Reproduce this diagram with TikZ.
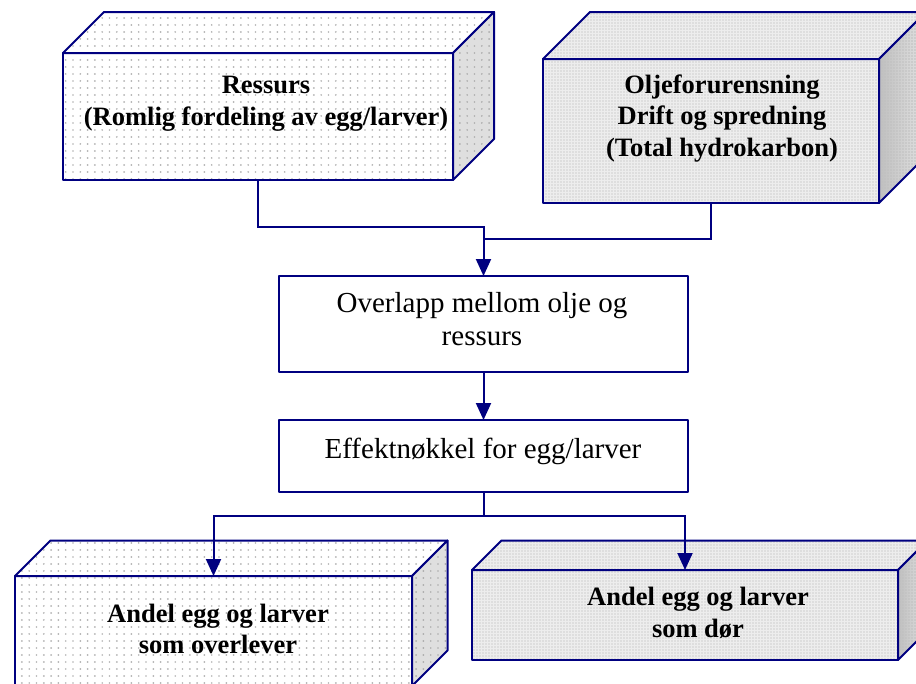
\documentclass[tikz,border=0pt]{standalone}
\usepackage{fontspec}
\setmainfont{Liberation Serif}
\usetikzlibrary{arrows.meta,patterns.meta,calc}

\definecolor{navy}{RGB}{0,0,128}

% dotted fills for the boxes
\tikzdeclarepattern{
  name=sparsedots,
  type=uncolored,
  bottom left={(-1pt,-1pt)},
  top right={(1pt,1pt)},
  tile size={(7.3pt,7pt)},
  code={\fill (0pt,0pt) circle (0.95pt);}
}
\tikzdeclarepattern{
  name=finedots,
  type=uncolored,
  bottom left={(-1pt,-1pt)},
  top right={(1pt,1pt)},
  tile size={(3pt,3pt)},
  code={\fill (0pt,0pt) circle (0.8pt);}
}

% top and side face of a box whose front is node #1
\newcommand\prism[4]{%
  \path[face,#3] (#1.north west) -- ++(#2,-#2) -- ($(#1.north east)+(#2,-#2)$) -- (#1.north east) -- cycle;
  \path[face,#4] (#1.north east) -- ++(#2,-#2) -- ($(#1.south east)+(#2,-#2)$) -- (#1.south east) -- cycle;
}

\begin{document}
\begin{tikzpicture}[x=1pt,y=-1pt,
  face/.style={draw=navy, line width=2pt, line join=round, inner sep=0pt, outer sep=0pt},
  sparse/.style={preaction={fill=white}, pattern=sparsedots, pattern color=gray!60},
  sparseside/.style={preaction={fill=gray!25}, pattern=sparsedots, pattern color=gray!65},
  dense/.style={preaction={fill=gray!14}, pattern=finedots, pattern color=gray!38},
  denseside/.style={preaction={left color=gray!50, right color=gray!22}, pattern=finedots, pattern color=gray!50},
  boldtxt/.style={align=center, font=\fontsize{26.5}{31.5}\selectfont\bfseries},
  plaintxt/.style={align=center, font=\fontsize{29}{33}\selectfont},
  link/.style={draw=navy, line width=2pt},
  tip/.style={-{Triangle[length=17pt,width=15pt]}}
]
\useasboundingbox (0,0) rectangle (916,683);
\clip (0,0) rectangle (916,683);

% input boxes
\node[face, sparse, minimum width=390pt, minimum height=127pt] (res) at (258,116.5) {};
\prism{res}{41}{sparse}{sparseside}
\node[boldtxt] (res-txt) at (266,103.5) {Ressurs\\(Romlig fordeling av egg/larver)};

\node[face, dense, minimum width=336pt, minimum height=144pt] (olje) at (711,131) {};
\prism{olje}{47}{dense}{denseside}
\node[boldtxt] (olje-txt) at (722,118.5) {Oljeforurensning\\Drift og spredning\\(Total hydrokarbon)};

% steps
\node[face, fill=white, minimum width=409pt, minimum height=96pt] (ovl) at (483.5,324) {};
\node[plaintxt] (ovl-txt) at (482,319.5) {Overlapp mellom olje og\\ressurs};

\node[face, fill=white, minimum width=409pt, minimum height=72pt] (key) at (483.5,456) {};
\node[plaintxt] (key-txt) at (483,451.5) {Effektnøkkel for egg/larver};

% outcome boxes
\node[face, sparse, minimum width=397pt, minimum height=110pt] (surv) at (213.5,631) {};
\prism{surv}{35.5}{sparse}{sparseside}
\node[boldtxt] (surv-txt) at (218,629) {Andel egg og larver\\som overlever};

\node[face, dense, minimum width=426pt, minimum height=90pt] (dies) at (685,615) {};
\prism{dies}{29.5}{dense}{denseside}
\node[boldtxt] (dies-txt) at (698,613) {Andel egg og larver\\som dør};

% connectors
\coordinate (j1) at (483.5,227);
\coordinate (j2) at (483.5,239);
\coordinate (split) at (483.5,516);
\draw[link, tip] (res.south) |- (j1) -- (ovl.north);
\draw[link] (olje.south) |- (j2);
\draw[link, tip] (ovl.south) -- (key.north);
\draw[link] (key.south) -- (split);
\draw[link, tip] (split) -| (surv.north);
\draw[link, tip] (split) -| (dies.north);
\end{tikzpicture}
\end{document}
